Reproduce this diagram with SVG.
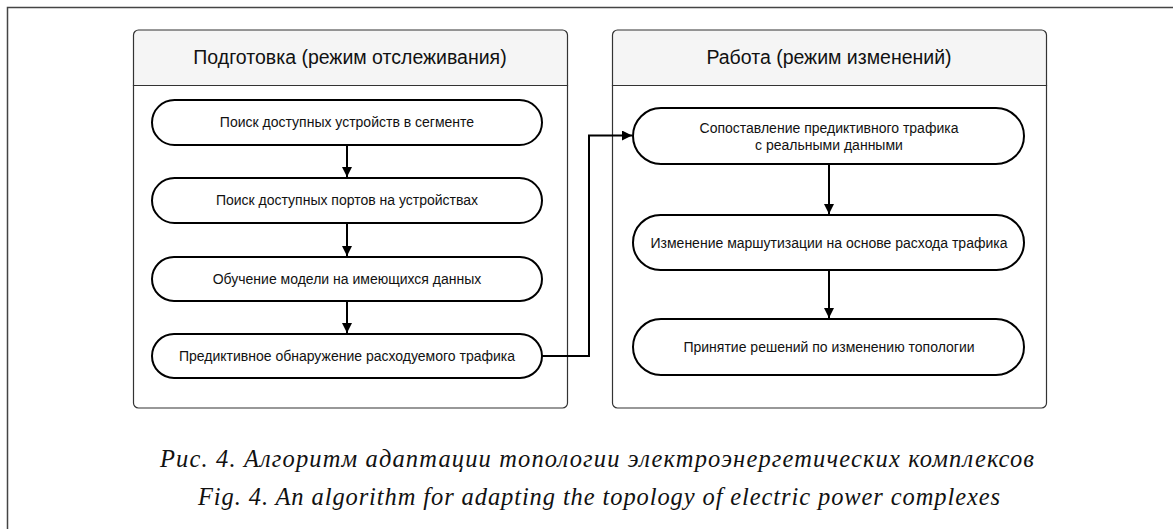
<svg xmlns="http://www.w3.org/2000/svg" width="1173" height="529" viewBox="0 0 1173 529">
<defs>
<style>
.frame{fill:none;stroke:#444;stroke-width:1.5}
.cont{fill:#fff;stroke:#333;stroke-width:1.2}
.head{fill:#f5f5f5;stroke:#333;stroke-width:1.2}
.node{fill:#fff;stroke:#000;stroke-width:2}
.ht{font-family:"Liberation Sans",Arial,sans-serif;font-size:19.5px;fill:#111;text-anchor:middle}
.nt{font-family:"Liberation Sans",Arial,sans-serif;font-size:14px;fill:#111;text-anchor:middle}
.cap{font-family:"Liberation Serif","Times New Roman",serif;font-style:italic;font-size:24.5px;fill:#111}
.edge{fill:none;stroke:#000;stroke-width:2}
</style>
<marker id="arr" viewBox="0 0 10 10" refX="10" refY="5" markerWidth="5" markerHeight="5" orient="auto" markerUnits="strokeWidth">
<path d="M0,0 L10,5 L0,10 Z" fill="#000"/>
</marker>
</defs>
<rect width="1173" height="529" fill="#fff"/>
<path class="frame" d="M7.5,529 V7.5 H1173"/>

<g id="lane-prep">
<path class="cont" d="M133.5,85.5 H567.5 V403 a5,5 0 0 1 -5,5 H138.5 a5,5 0 0 1 -5,-5 Z"/>
<path class="head" d="M133.5,85.5 V35 a5,5 0 0 1 5,-5 H562.5 a5,5 0 0 1 5,5 V85.5 Z"/>
<text class="ht" x="350" y="64">Подготовка (режим отслеживания)</text>
</g>
<g id="lane-work">
<path class="cont" d="M612.5,85.5 H1046.5 V403 a5,5 0 0 1 -5,5 H617.5 a5,5 0 0 1 -5,-5 Z"/>
<path class="head" d="M612.5,85.5 V35 a5,5 0 0 1 5,-5 H1041.5 a5,5 0 0 1 5,5 V85.5 Z"/>
<text class="ht" x="829" y="64">Работа (режим изменений)</text>
</g>

<g id="n1"><rect class="node" x="152" y="100" width="390" height="45" rx="22.5"/><text class="nt" x="347" y="127">Поиск доступных устройств в сегменте</text></g>
<g id="n2"><rect class="node" x="152" y="178" width="390" height="45" rx="22.5"/><text class="nt" x="347" y="205">Поиск доступных портов на устройствах</text></g>
<g id="n3"><rect class="node" x="152" y="257" width="390" height="44" rx="22"/><text class="nt" x="347" y="284">Обучение модели на имеющихся данных</text></g>
<g id="n4"><rect class="node" x="152" y="334" width="390" height="44" rx="22"/><text class="nt" x="347" y="361">Предиктивное обнаружение расходуемого трафика</text></g>

<g id="m1"><rect class="node" x="633" y="108" width="391" height="56" rx="28"/><text class="nt" x="829" y="133">Сопоставление предиктивного трафика</text><text class="nt" x="829" y="150">с реальными данными</text></g>
<g id="m2"><rect class="node" x="633" y="215" width="391" height="55" rx="27.5"/><text class="nt" x="829" y="248">Изменение маршутизации на основе расхода трафика</text></g>
<g id="m3"><rect class="node" x="633" y="319" width="391" height="56" rx="28"/><text class="nt" x="829" y="352">Принятие решений по изменению топологии</text></g>

<g id="connectors">
<path class="edge" d="M347,145 V177" marker-end="url(#arr)"/>
<path class="edge" d="M347,223 V256" marker-end="url(#arr)"/>
<path class="edge" d="M347,301 V333" marker-end="url(#arr)"/>
<path class="edge" d="M542,356 H589 V135.5 H632" marker-end="url(#arr)"/>
<path class="edge" d="M829,164 V214" marker-end="url(#arr)"/>
<path class="edge" d="M829,270 V318" marker-end="url(#arr)"/>
</g>

<g id="caption">
<text class="cap" x="160" y="467" textLength="874" lengthAdjust="spacing">Рис. 4. Алгоритм адаптации топологии электроэнергетических комплексов</text>
<text class="cap" x="198" y="505" textLength="802" lengthAdjust="spacing">Fig. 4. An algorithm for adapting the topology of electric power complexes</text>
</g>
</svg>
